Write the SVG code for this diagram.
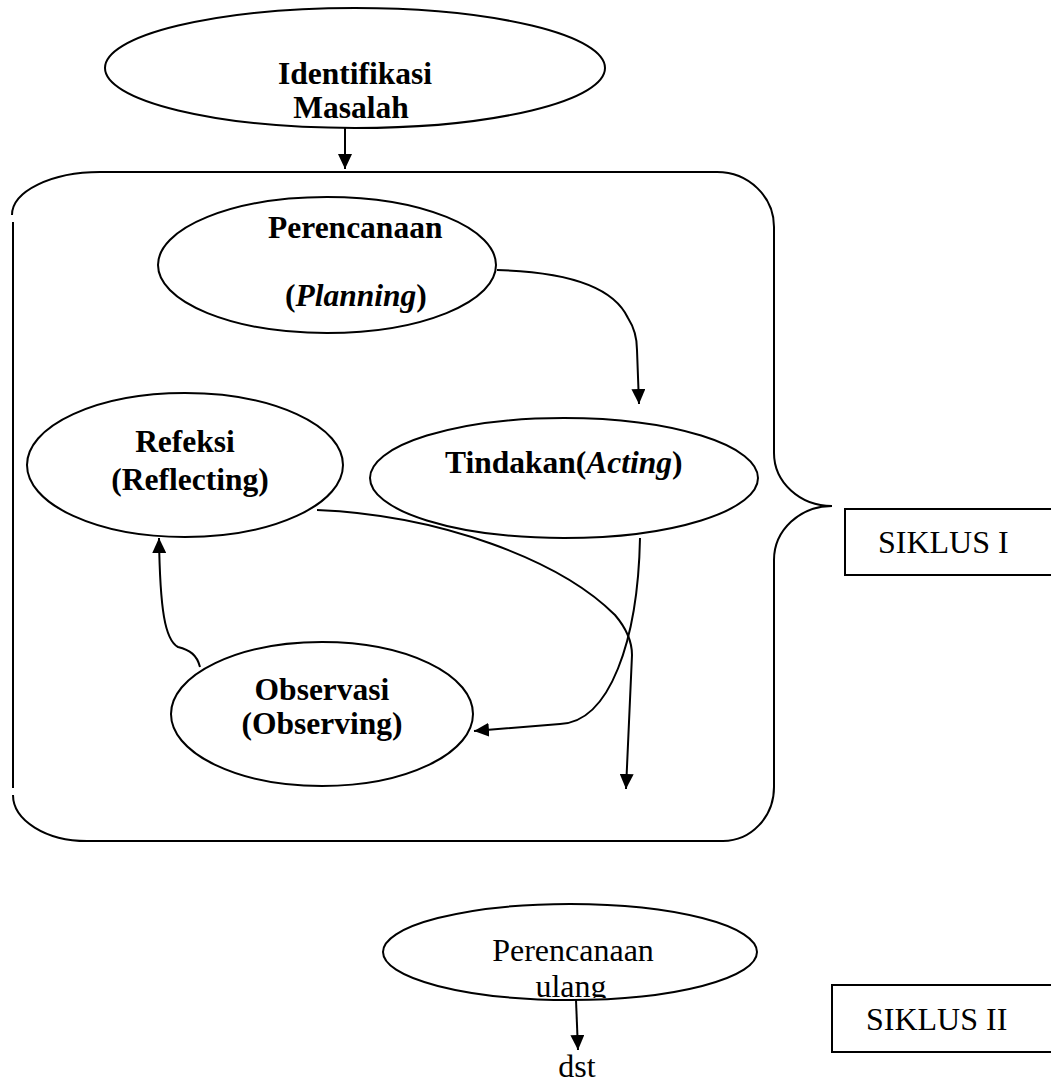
<svg xmlns="http://www.w3.org/2000/svg" width="1051" height="1082" viewBox="0 0 1051 1082">
<style>
.sh{fill:#fff;stroke:#000;stroke-width:2}
.ln{fill:none;stroke:#000;stroke-width:2}
.b{font-family:"Liberation Serif","Times New Roman",serif;font-weight:bold;font-size:31.5px;fill:#000}
.r{font-family:"Liberation Serif","Times New Roman",serif;font-size:32px;fill:#000}
.c{text-anchor:middle}
</style>
<defs>
<marker id="ah" markerUnits="userSpaceOnUse" markerWidth="16" markerHeight="14" refX="15" refY="7" orient="auto">
<path d="M0,0 L15,7 L0,14 z" fill="#000"/>
</marker>
<clipPath id="clipUlang"><rect x="380" y="880" width="400" height="118"/></clipPath>
</defs>
<rect width="1051" height="1082" fill="#fff"/>

<g id="siklus-frame">
<path class="ln" d="M12,215 A88,43 0 0 1 100,172 L717,172 A57,55 0 0 1 774,227 L774,453 A58,53 0 0 0 832,506"/>
<path class="ln" d="M832,506 A58,54 0 0 0 774,560 L774,787 A51,54 0 0 1 723,841 L87,841 A74,46 0 0 1 13,795"/>
<path class="ln" d="M13,222 L13,788"/>
</g>

<g id="connectors">
<path class="ln" marker-end="url(#ah)" d="M345,128 L345,169"/>
<path class="ln" marker-end="url(#ah)" d="M497,270 C575,272 615,290 628,318 Q637,332 637,350 L639,404"/>
<path class="ln" marker-end="url(#ah)" d="M317,510 C440,515 560,560 615,615 Q632,635 632,655 L626,789"/>
<path class="ln" marker-end="url(#ah)" d="M640,538 C638,640 610,722 560,724 L474,731"/>
<path class="ln" marker-end="url(#ah)" d="M200,667 C197,655 190,650 178,647 C165,640 160,610 159,538"/>
<path class="ln" marker-end="url(#ah)" d="M576,1000 L578,1050"/>
</g>

<g id="node-identifikasi">
<ellipse class="sh" cx="355" cy="68" rx="250" ry="60"/>
<text class="b c" x="355" y="84">Identifikasi</text>
<text class="b c" x="351" y="118">Masalah</text>
</g>

<g id="node-perencanaan">
<ellipse class="sh" cx="327" cy="265" rx="169" ry="68"/>
<text class="b" x="268" y="238">Perencanaan</text>
<text class="b" x="285" y="306">(<tspan font-style="italic">Planning</tspan>)</text>
</g>

<g id="node-refeksi">
<ellipse class="sh" cx="185" cy="465" rx="158" ry="72"/>
<text class="b c" x="185" y="452">Refeksi</text>
<text class="b c" x="190" y="490">(Reflecting)</text>
</g>

<g id="node-tindakan">
<ellipse class="sh" cx="564" cy="478" rx="194" ry="60"/>
<text class="b" x="445" y="473">Tindakan(<tspan font-style="italic">Acting</tspan>)</text>
</g>

<g id="node-observasi">
<ellipse class="sh" cx="322" cy="714" rx="151" ry="72"/>
<text class="b c" x="322" y="700">Observasi</text>
<text class="b c" x="322" y="734">(Observing)</text>
</g>

<g id="node-perencanaan-ulang">
<ellipse class="sh" cx="570" cy="952" rx="187" ry="48"/>
<text class="r c" x="573" y="961">Perencanaan</text>
<text class="r c" x="571" y="997" clip-path="url(#clipUlang)">ulang</text>
</g>

<g id="label-dst">
<text class="r c" x="577" y="1077">dst</text>
</g>

<g id="box-siklus1">
<rect class="sh" x="845" y="509" width="230" height="66"/>
<text class="r" x="878" y="553">SIKLUS I</text>
</g>

<g id="box-siklus2">
<rect class="sh" x="832" y="985" width="230" height="67"/>
<text class="r" x="866" y="1030">SIKLUS II</text>
</g>
</svg>
